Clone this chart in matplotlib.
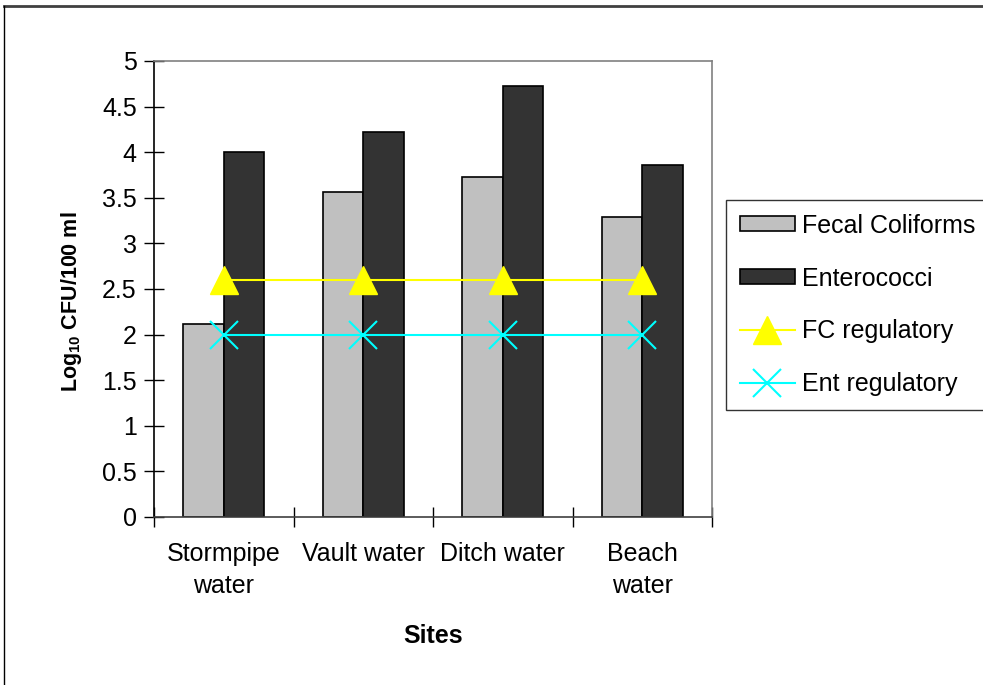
import matplotlib.pyplot as plt
import numpy as np

plt.rcParams['font.family'] = ['Liberation Sans', 'DejaVu Sans']
plt.rcParams['mathtext.fontset'] = 'custom'
plt.rcParams['mathtext.rm'] = 'Liberation Sans:bold'
plt.rcParams['mathtext.bf'] = 'Liberation Sans:bold'

sites = ["Stormpipe\nwater", "Vault water", "Ditch water", "Beach\nwater"]
fecal = [2.12, 3.56, 3.73, 3.29]
entero = [4.00, 4.22, 4.73, 3.86]
fc_reg = [2.6, 2.6, 2.6, 2.6]
ent_reg = [2.0, 2.0, 2.0, 2.0]

fig = plt.figure(figsize=(9.83, 6.85), dpi=100)
ax = fig.add_axes([154/983, 1 - 517/685, (712 - 154)/983, (517 - 61)/685])

x = np.arange(len(sites))
w = 0.29
b1 = ax.bar(x - w/2, fecal, w, color='#c0c0c0', edgecolor='black', linewidth=1.2,
            label='Fecal Coliforms', zorder=2)
b2 = ax.bar(x + w/2, entero, w, color='#333333', edgecolor='black', linewidth=1.2,
            label='Enterococci', zorder=2)
l1, = ax.plot(x, fc_reg, color='#ffff00', lw=1.5, marker='^', ms=20,
              markeredgecolor='#ffff00', label='FC regulatory', zorder=3)
l2, = ax.plot(x, ent_reg, color='#00ffff', lw=1.5, marker='x', ms=20, mew=1.5,
              label='Ent regulatory', zorder=3)

ax.set_xlim(-0.5, len(sites) - 0.5)
ax.set_ylim(0, 5)
ax.set_yticks(np.arange(0, 5.01, 0.5))
ax.set_yticklabels(['0', '0.5', '1', '1.5', '2', '2.5', '3', '3.5', '4', '4.5', '5'])
ax.set_xticks(x)
ax.set_xticklabels(sites, fontsize=18, linespacing=1.4)
ax.tick_params(axis='x', length=0, pad=18)
ax.set_xticks(np.arange(-0.5, len(sites)), minor=True)
ax.tick_params(axis='x', which='minor', direction='inout', length=15, width=1)
ax.tick_params(axis='y', direction='inout', length=15, width=1, labelsize=18, pad=5)

ax.spines['left'].set_color('black')
ax.spines['bottom'].set_color('#404040')
ax.spines['top'].set_color('#808080')
ax.spines['right'].set_color('#808080')
for s in ax.spines.values():
    s.set_linewidth(1.2)

ax.set_ylabel(r'Log$_{10}$ CFU/100 ml', fontsize=15.5, fontweight='bold')
ax.yaxis.set_label_coords(-0.125, 0.471)
ax.set_xlabel('Sites', fontsize=18, fontweight='bold', labelpad=19)

leg = fig.legend(handles=[b1, b2, l1, l2], loc='upper left',
                 bbox_to_anchor=(726/983, 1 - 200/685),
                 fontsize=18, frameon=True, fancybox=False, edgecolor='black',
                 handlelength=2.2, handleheight=0.55, labelspacing=1.15,
                 borderpad=0.55, handletextpad=0.3, borderaxespad=0)
leg.get_frame().set_linewidth(1)

# outer chart border
fig.add_artist(plt.Line2D([4/983, 1], [1 - 6/685, 1 - 6/685], color='#404040', lw=2))
fig.add_artist(plt.Line2D([4/983, 4/983], [0, 1 - 6/685], color='black', lw=1))

plt.savefig('out.png', dpi=100)
